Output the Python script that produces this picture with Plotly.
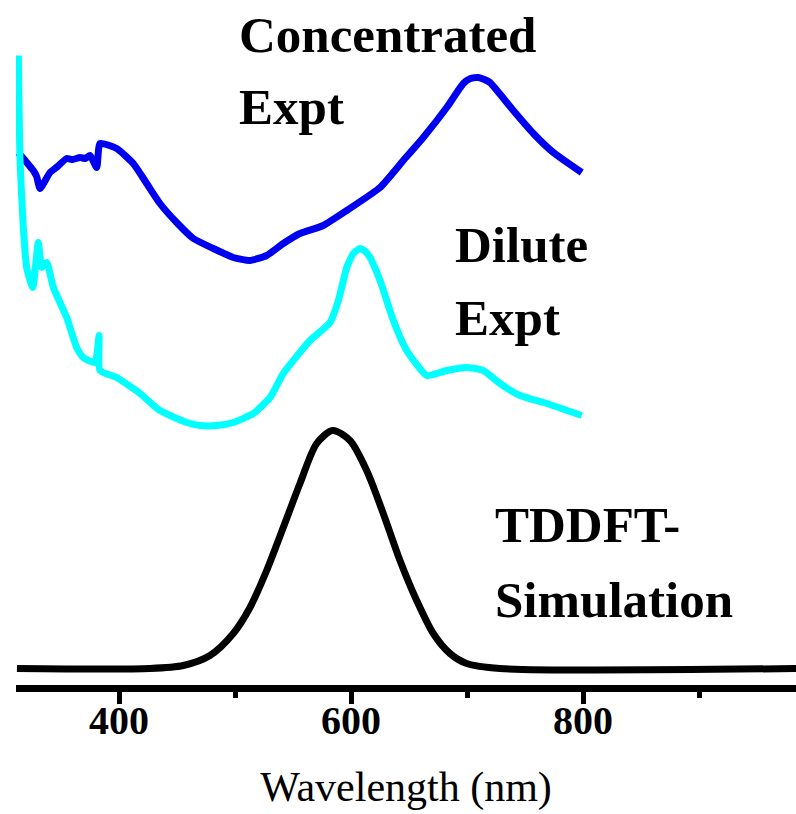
import plotly.graph_objects as go

# ---- data (wavelength in nm, absorbance in stacked arbitrary units) ----
wl_conc = [313.2, 326.1, 329.0, 331.9, 340.5, 347.0, 354.9, 360.0, 366.4, 371.0, 375.0, 380.8,
           383.6, 398.0, 412.3, 423.9, 435.3, 449.7, 464.1, 481.3, 498.5, 512.9, 527.3,
           541.6, 556.0, 576.1, 596.3, 625.0, 645.1, 662.3, 682.5, 696.8, 703.0, 709.7,
           715.0, 719.8, 739.9, 757.2, 774.4, 798.9]
abs_conc = [5.16, 4.98, 4.92, 4.80, 4.96, 5.02, 5.10, 5.09, 5.11, 5.10, 5.13, 5.01,
            5.25, 5.20, 5.05, 4.85, 4.65, 4.46, 4.30, 4.20, 4.11, 4.08, 4.13,
            4.25, 4.35, 4.43, 4.58, 4.81, 5.08, 5.31, 5.61, 5.85, 5.90, 5.91,
            5.89, 5.86, 5.58, 5.35, 5.16, 4.96]

wl_dil = [313.2, 314.7, 317.5, 320.4, 325.6, 330.4, 333.4, 337.7, 343.4, 354.9, 363.5,
          369.2, 379.3, 382.8, 383.6, 398.0, 418.1, 435.3, 458.4, 469.8, 484.2, 498.5,
          515.8, 530.2, 541.6, 550.3, 564.7, 581.9, 589.1, 596.3, 602.0, 607.8, 611.5,
          616.4, 625.0, 636.5, 648.0, 665.3, 682.5, 699.6, 714.0, 728.4, 745.7, 768.7, 798.9]
abs_dil = [6.13, 5.08, 4.41, 4.01, 3.81, 4.26, 4.01, 4.06, 3.81, 3.51, 3.21,
           3.11, 3.06, 3.33, 2.98, 2.91, 2.75, 2.58, 2.46, 2.43, 2.43, 2.46,
           2.55, 2.71, 2.95, 3.08, 3.28, 3.46, 3.68, 4.01, 4.15, 4.20, 4.18,
           4.11, 3.88, 3.48, 3.18, 2.93, 2.98, 3.01, 2.98, 2.85, 2.73, 2.65, 2.53]

wl_sim = [312.0, 426.7, 455.4, 478.4, 498.5, 512.9, 527.3, 541.6, 556.0, 570.4, 584.2,
          599.1, 613.5, 627.8, 642.2, 656.6, 670.9, 685.3, 699.7, 728.4, 985.0]
abs_sim = [0.0, 0.0, 0.03, 0.13, 0.35, 0.61, 0.98, 1.41, 1.85, 2.25, 2.38,
           2.28, 1.98, 1.55, 1.08, 0.68, 0.35, 0.15, 0.05, 0.0, 0.0]

tick_vals = [400, 600, 800]
tick_text = ["400", "600", "800"]

labels = [
    ("Concentrated", 501.7, 6.34),
    ("Expt", 501.7, 5.615),
    ("Dilute", 687.9, 4.235),
    ("Expt", 687.9, 3.505),
    ("TDDFT-", 722.4, 1.435),
    ("Simulation", 722.4, 0.685),
]

SERIF = "Liberation Serif, Times New Roman, serif"

fig = go.Figure()
fig.add_trace(go.Scatter(x=wl_conc, y=abs_conc, mode="lines", name="Concentrated Expt",
                         line=dict(color="#0000F0", width=7, shape="spline", smoothing=0.5)))
fig.add_trace(go.Scatter(x=wl_dil, y=abs_dil, mode="lines", name="Dilute Expt",
                         line=dict(color="#00FFFF", width=7, shape="spline", smoothing=0.5)))
fig.add_trace(go.Scatter(x=wl_sim, y=abs_sim, mode="lines", name="TDDFT-Simulation",
                         line=dict(color="black", width=7, shape="spline", smoothing=0.8)))

for text, x, y in labels:
    fig.add_annotation(x=x, y=y, xref="x", yref="y", text=text, showarrow=False,
                       xanchor="left", yanchor="middle",
                       font=dict(family=SERIF, size=51, color="black", weight="bold"))

fig.update_layout(
    width=796, height=814,
    margin=dict(l=16, r=0, t=0, b=129),
    paper_bgcolor="white", plot_bgcolor="white",
    showlegend=False,
    xaxis=dict(
        range=[311.2, 983.6],
        tickmode="array", tickvals=tick_vals, ticktext=tick_text,
        ticks="outside", ticklen=12, tickwidth=5, tickcolor="black",
        minor=dict(ticks="outside", ticklen=6, tickwidth=5, tickcolor="black",
                   tickmode="linear", tick0=300, dtick=100),
        showline=True, linecolor="black", linewidth=7,
        showgrid=False, zeroline=False,
        ticklabelstandoff=-18,
        tickfont=dict(family=SERIF, size=40, color="black", weight="bold"),
        title=dict(text="Wavelength (nm)", standoff=32,
                   font=dict(family=SERIF, size=42, color="black")),
    ),
    yaxis=dict(range=[-0.165, 6.685], visible=False),
)

# remove the default page margin so the figure fills the 796x814 window exactly
fig.write_html(
    "out.html",
    config={"displayModeBar": False},
    post_script="document.body.style.margin='0';"
                "document.documentElement.style.overflow='hidden';",
)
